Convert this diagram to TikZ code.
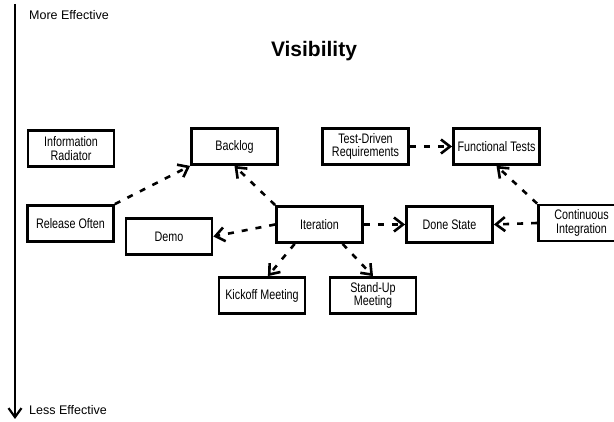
\documentclass[tikz,border=0pt]{standalone}
\usepackage{fontspec}
\setmainfont{Liberation Sans}
\newfontfamily\narrowfont{Liberation Sans}[FakeStretch=0.78]
\usetikzlibrary{arrows.meta}
\tikzset{
  box/.style={draw, line width=2.8pt, minimum width=86pt, minimum height=36pt,
    inner sep=1pt, align=center, font=\narrowfont\fontsize{13.8}{13.5}\selectfont},
  link/.style={line width=2.6pt, dash pattern=on 6pt off 8pt,
    -{Straight Barb[length=9pt,width=14pt]}},
  lbl/.style={anchor=west, inner sep=0pt, font=\fontsize{12.5}{13}\selectfont}
}
\begin{document}
\begin{tikzpicture}[x=1pt,y=-1pt]
\useasboundingbox (0,0) rectangle (614,422);
\clip (0,0) rectangle (614,422);
\fill[white] (0,0) rectangle (614,422);
% axis
\coordinate (top) at (15,4);
\coordinate (bot) at (15,419);
\draw[line width=2.2pt, -{Straight Barb[length=9pt,width=13pt]}] (top) -- (bot);
\node[lbl] (more) at (29,15) {More Effective};
\node[lbl] (less) at (29,410) {Less Effective};
\node[font=\bfseries\fontsize{21}{21}\selectfont, inner sep=0pt] (title) at (314,51) {Visibility};
% boxes
\node[box] (info) at (71,148.5) {Information\\Radiator};
\node[box] (backlog) at (234.5,146.5) {Backlog};
\node[box] (tdr) at (365.5,146.5) {Test-Driven\\Requirements};
\node[box] (ft) at (496.5,146.5) {Functional Tests};
\node[box] (release) at (70.5,223.5) {Release Often};
\node[box] (demo) at (169,236.5) {Demo};
\node[box] (iter) at (319.5,224.5) {Iteration};
\node[box] (done) at (449.5,224.5) {Done State};
\node[box] (ci) at (581.5,223) {Continuous\\Integration};
\node[box] (kick) at (262,295.5) {Kickoff Meeting};
\node[box] (stand) at (373,295.5) {Stand-Up\\Meeting};
% links
\draw[link] (release.north east) -- (backlog.south west);
\draw[link] (iter.north west) -- (backlog.south);
\draw[link] (iter.west) -- (demo.east);
\draw[link] (iter.218) -- (kick.73);
\draw[link] (iter.-40) -- (stand.north);
\draw[link] (iter.east) -- (done.west);
\draw[link] (tdr.east) -- (ft.west);
\draw[link] (ci.west) -- (done.east);
\draw[link] (ci.north west) -- (ft.south);
\end{tikzpicture}
\end{document}
